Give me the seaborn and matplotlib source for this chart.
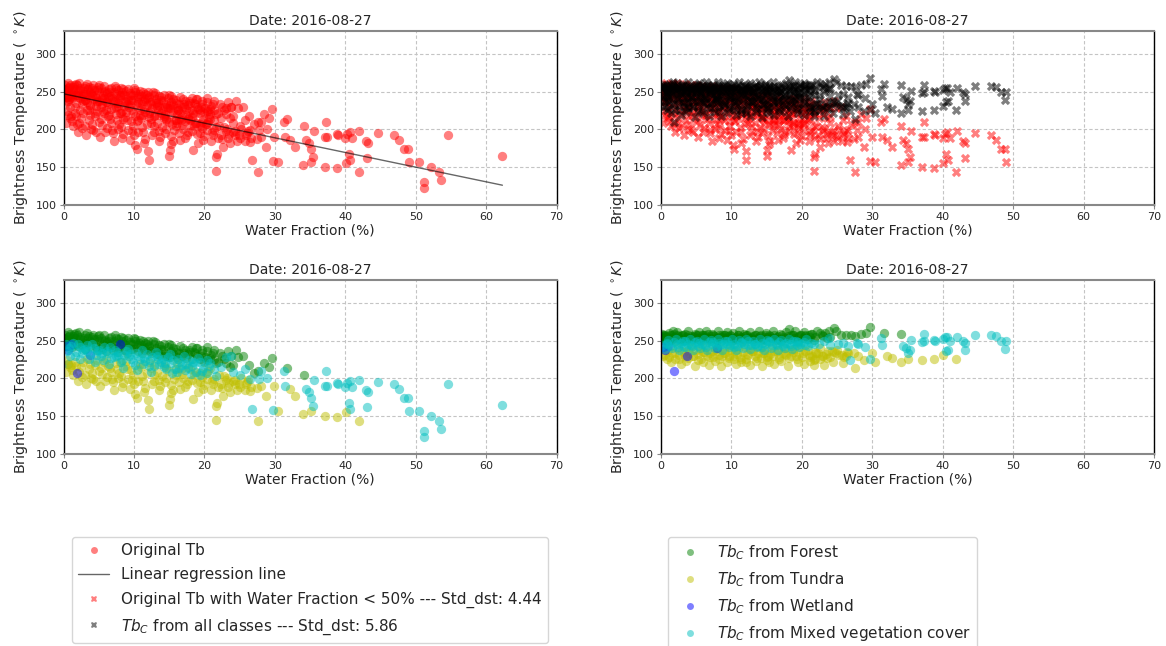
import matplotlib.pyplot as plt
import numpy as np
import pandas as pd
import seaborn as sns
from matplotlib.lines import Line2D

# --- data (water fraction %, original Tb, corrected Tb) ---
forest_wf = [0.1, 0.2, 0.3, 0.4, 0.6, 0.6, 0.7, 0.9, 1.0, 1.1, 1.3, 1.5, 1.6, 1.8, 1.9, 2.1, 2.2, 2.4,
             2.6, 2.7, 2.9, 3.0, 3.2, 3.4, 3.5, 3.7, 3.8, 4.1, 4.2, 4.4, 4.6, 4.7, 4.9, 5.0, 5.3, 5.5,
             5.6, 5.8, 5.9, 6.2, 6.3, 6.5, 6.7, 6.8, 7.0, 7.1, 7.4, 7.5, 7.7, 7.9, 8.0, 8.2, 8.3, 8.6,
             8.7, 8.9, 9.1, 9.2, 9.5, 9.6, 9.8, 10.0, 10.1, 10.4, 10.5, 10.7, 10.9, 11.0, 11.3, 11.4,
             11.6, 11.9, 12.0, 12.2, 12.4, 12.5, 12.8, 13.0, 13.1, 13.4, 13.6, 13.8, 14.1, 14.2, 14.5,
             14.7, 14.8, 15.2, 15.3, 15.6, 16.0, 16.1, 16.4, 16.6, 16.8, 17.2, 17.4, 17.6, 18.0, 18.2,
             18.5, 18.8, 18.9, 19.3, 19.6, 19.7, 20.1, 20.4, 20.5, 21.0, 21.2, 21.4, 21.9, 22.5, 23.0,
             23.6, 23.8, 24.5, 25.5, 26.3, 27.0, 27.6, 28.4, 29.1, 29.6, 31.7, 34.1,
             0.2, 0.5, 0.8, 1.2, 1.4, 1.7, 2.0, 2.3, 2.8, 3.1, 3.6, 3.9, 4.3, 4.8, 5.1, 5.4, 5.7, 6.0,
             6.4, 6.9, 7.3, 7.8, 8.1, 8.5, 9.0, 9.4, 9.9, 10.2, 10.6, 11.1, 11.5, 11.8, 12.3, 12.7,
             13.2, 13.5, 13.9, 14.4, 14.9, 15.1, 15.5, 15.9, 16.3, 16.9, 17.1, 17.8, 18.3, 18.7, 19.0,
             19.5, 19.9, 20.3, 20.8, 21.3, 21.7, 22.2, 22.8, 23.3, 24.0, 24.8]
forest_tb = [253, 258, 247, 252, 255, 219, 261, 259, 244, 250, 256, 259, 253, 246, 258, 249, 261, 255,
             244, 251, 254, 257, 247, 260, 253, 243, 250, 255, 258, 246, 241, 252, 256, 249, 254, 239,
             245, 257, 251, 248, 243, 253, 255, 244, 238, 250, 247, 254, 252, 240, 243, 255, 249, 246,
             237, 251, 253, 242, 248, 239, 245, 254, 250, 241, 236, 247, 251, 244, 249, 237,
             240, 246, 250, 243, 233, 238, 245, 248, 240, 236, 231, 243, 238, 246, 234,
             230, 241, 236, 244, 232, 239, 228, 234, 243, 230, 237, 227, 232, 235, 242,
             235, 240, 230, 226, 238, 233, 228, 236, 224, 231, 234, 226, 222, 229, 220,
             215, 230, 237, 229, 218, 207, 210, 220, 215, 227, 214, 204,
             250, 243, 256, 241, 252, 260, 243, 252, 247, 239, 256, 248, 252, 238, 258, 242, 250, 236,
             249, 241, 257, 235, 245, 253, 234, 245, 239, 252, 244, 233, 247, 241, 236, 249,
             232, 244, 239, 229, 245, 228, 240, 235, 226, 240, 233, 238, 225, 234, 240,
             229, 222, 241, 227, 237, 220, 233, 225, 236, 218, 228]
forest_tbc = [255, 256, 257, 254, 258, 249, 256, 255, 253, 252, 257, 258, 254, 255, 259, 253, 257, 256,
              254, 252, 256, 258, 251, 259, 255, 253, 257, 254, 256, 252, 255, 256, 258, 253, 258, 254,
              251, 257, 255, 257, 255, 253, 259, 252, 253, 256, 258, 256, 254, 254, 251, 258, 255, 257,
              255, 253, 257, 252, 256, 253, 258, 256, 254, 251, 254, 255, 258, 257, 253, 255,
              252, 256, 257, 258, 253, 254, 255, 256, 252, 257, 254, 254, 256, 258, 252,
              255, 258, 255, 257, 253, 257, 253, 255, 256, 252, 258, 255, 254, 256, 265,
              257, 257, 253, 255, 256, 258, 254, 258, 256, 258, 255, 259, 255, 260, 256,
              253, 262, 267, 258, 257, 257, 256, 259, 260, 268, 260, 259,
              259, 252, 250, 260, 251, 262, 250, 261, 249, 258, 251, 262, 249, 259, 252, 261, 249, 257,
              262, 250, 259, 251, 262, 250, 258, 261, 249, 260, 252, 262, 250, 259, 252, 261,
              250, 258, 262, 251, 260, 249, 256, 262, 251, 259, 250, 261, 252, 258, 262,
              250, 258, 261, 252, 259, 251, 262, 257, 260, 255, 262]

tundra_wf = [0.5, 0.9, 1.2, 1.6, 2.0, 2.5, 3.0, 3.4, 3.9, 4.0, 4.5, 5.0, 5.2, 5.7, 6.1, 6.6, 7.0, 7.4,
             7.9, 8.3, 8.7, 9.1, 9.6, 10.0, 10.2, 10.4, 10.8, 11.2, 11.6, 12.0, 12.1, 12.4, 12.9, 13.3,
             13.7, 14.2, 14.6, 15.0, 15.1, 15.5, 15.9, 16.4, 16.8, 17.3, 17.7, 18.2, 18.4, 18.7, 19.1,
             19.6, 20.0, 20.5, 21.0, 21.4, 21.7, 21.7, 21.8, 22.0, 22.3, 22.8, 23.0, 23.4, 24.0, 24.3,
             24.6, 25.2, 25.7, 26.0, 26.6, 27.4, 27.6, 28.0, 28.8, 29.9, 30.4, 32.1, 32.8, 34.0, 35.1,
             37.1, 38.8, 40.1, 41.9,
             1.0, 1.4, 2.2, 2.8, 3.2, 3.6, 4.2, 4.8, 5.5, 5.9, 6.3, 6.8, 7.2, 7.7, 8.0, 8.5, 9.0, 9.4,
             9.8, 10.6, 11.0, 11.4, 11.9, 12.6, 13.0, 13.5, 14.0, 14.4, 14.9, 15.3, 15.7, 16.1, 16.6,
             17.0, 17.5, 18.0, 18.9, 19.4, 19.8, 20.3, 20.8, 21.2, 22.5, 23.2, 23.7, 24.4, 25.0, 25.9,
             26.4, 22.6,
             0.3, 1.8, 2.6, 3.8, 4.6, 5.3, 6.0, 6.9, 7.6, 8.2, 8.9, 9.7, 10.5, 11.3, 12.2, 12.8, 13.6,
             14.5, 15.2, 16.0, 16.7, 17.6, 18.5, 19.3, 20.2, 21.1, 21.9, 23.5, 24.9, 26.2]
tundra_tb = [224, 215, 211, 222, 196, 215, 205, 226, 200, 207, 218, 210, 190, 221, 202, 214, 195, 220,
             207, 188, 216, 199, 211, 192, 179, 174, 219, 203, 187, 171, 160, 214, 197, 208,
             190, 218, 201, 165, 173, 185, 212, 195, 206, 188, 215, 198, 173, 209, 182,
             202, 191, 210, 185, 199, 145, 164, 168, 205, 193, 203, 198, 188, 196, 192,
             185, 200, 184, 195, 189, 187, 143, 190, 177, 190, 157, 186, 177, 153, 157,
             150, 149, 155, 143,
             218, 204, 209, 221, 193, 213, 199, 224, 206, 196, 217, 209, 185, 201, 222, 194, 212, 186,
             205, 196, 215, 182, 207, 193, 219, 184, 203, 195, 210, 180, 199, 220, 186,
             201, 193, 212, 194, 207, 186, 199, 214, 192, 187, 200, 182, 198, 189, 193,
             183, 177,
             208, 217, 202, 219, 196, 214, 225, 199, 212, 203, 223, 198, 213, 196, 221, 205, 198,
             214, 191, 205, 213, 197, 204, 195, 207, 197, 188, 194, 192, 198]
tundra_tbc = [231, 225, 228, 233, 226, 231, 236, 230, 227, 234, 229, 237, 232, 226, 235, 230, 233, 228,
              236, 231, 229, 234, 227, 237, 230, 225, 232, 228, 235, 226, 222, 231, 236, 229,
              233, 227, 234, 224, 228, 232, 230, 236, 228, 233, 231, 227, 229, 235, 230,
              233, 228, 236, 231, 229, 218, 224, 226, 233, 234, 230, 229, 232, 228, 236,
              235, 231, 231, 228, 234, 233, 214, 230, 224, 234, 222, 230, 227, 222, 225,
              224, 225, 231, 225,
              238, 221, 240, 219, 235, 223, 241, 216, 238, 222, 241, 218, 236, 223, 240, 217, 237, 221,
              242, 219, 239, 222, 241, 218, 236, 223, 240, 216, 238, 221, 241, 219, 237,
              223, 240, 217, 239, 222, 241, 219, 237, 223, 240, 218, 236, 222, 238, 220,
              235, 226,
              229, 234, 225, 238, 230, 224, 235, 228, 239, 226, 233, 229, 236, 225, 232, 238, 227,
              234, 229, 236, 226, 232, 238, 226, 233, 228, 235, 227, 233, 229]

wetland_wf = [0.3, 0.6, 1.0, 1.9, 3.7, 8.0]
wetland_tb = [243, 238, 246, 207, 231, 246]
wetland_tbc = [241, 238, 243, 210, 230, 240]

mixed_wf = [0.3, 0.8, 1.3, 1.8, 2.3, 2.8, 3.3, 3.8, 4.3, 4.8, 5.3, 5.8, 6.3, 6.8, 7.3, 7.8, 8.3, 8.8,
            9.3, 9.8, 10.3, 10.8, 11.3, 11.8, 12.3, 12.8, 13.3, 13.8, 14.3, 14.8, 15.3, 15.8, 16.3,
            16.8, 17.3, 17.8, 18.3, 18.8, 19.3, 19.8, 20.3, 20.8, 21.3, 21.7, 22.4, 23.1, 23.8, 24.0,
            25.1, 25.8, 26.5, 26.8, 27.8, 28.0, 28.9, 29.7, 31.3, 31.4, 34.4, 34.8, 35.1, 35.4, 35.5,
            37.1, 37.3, 37.4, 38.8, 38.9, 40.0, 40.3, 40.5, 40.6, 40.7, 41.0, 42.0, 42.9, 43.1, 43.2,
            44.6, 46.9, 47.6, 48.3, 48.9, 49.0, 50.4, 51.2, 51.2, 52.2, 53.3, 53.6, 54.6, 62.3,
            0.5, 1.0, 1.6, 2.1, 2.6, 3.1, 3.6, 4.1, 4.6, 5.1, 5.6, 6.1, 6.6, 7.1, 7.6, 8.1, 8.6, 9.1,
            9.6, 10.1, 10.6, 11.1, 11.6, 12.1, 12.6, 13.1, 13.6, 14.1, 14.6, 15.1, 15.6, 16.1, 16.6,
            17.1, 17.6, 18.1, 18.6, 19.1, 19.6, 20.6,
            0.9, 2.4, 3.4, 4.4, 5.4, 6.4, 7.4, 8.4, 9.4, 10.4, 11.4, 12.4, 13.4, 14.4, 15.4, 16.4,
            17.4, 18.4, 19.4, 20.4]
mixed_tb = [245, 240, 247, 235, 242, 238, 244, 232, 240, 236, 229, 241, 233, 227, 238, 231, 224, 236,
            229, 222, 234, 226, 219, 232, 224, 217, 230, 222, 215, 228, 220, 213, 226,
            218, 211, 224, 216, 209, 222, 214, 207, 220, 212, 203, 215, 228, 230, 208,
            204, 212, 199, 160, 199, 210, 201, 158, 210, 190, 186, 182, 174, 164, 198,
            190, 210, 190, 194, 192, 188, 194, 167, 197, 160, 188, 198, 185, 162, 182,
            195, 193, 186, 174, 174, 157, 157, 131, 122, 150, 143, 133, 193, 165,
            236, 243, 229, 246, 233, 239, 226, 245, 231, 238, 224, 236, 242, 228, 235, 221, 231, 239,
            225, 218, 230, 237, 223, 216, 228, 235, 219, 226, 212, 232, 224, 209, 221,
            229, 214, 206, 220, 227, 210, 216,
            230, 226, 236, 221, 233, 219, 229, 214, 232, 211, 227, 209, 225, 220, 207, 214,
            219, 222, 204, 224]
mixed_tbc = [244, 246, 243, 248, 245, 247, 242, 246, 244, 248, 243, 246, 244, 248, 245, 243, 247, 245,
             249, 244, 246, 243, 247, 245, 249, 244, 246, 243, 247, 245, 249, 244, 246,
             248, 243, 247, 245, 249, 244, 246, 248, 243, 247, 245, 246, 250, 253, 244,
             245, 247, 243, 224, 247, 246, 242, 225, 253, 244, 243, 240, 233, 238, 251,
             248, 259, 249, 251, 250, 252, 255, 236, 255, 238, 250, 255, 249, 238, 247,
             257, 257, 256, 250, 239, 249, np.nan, np.nan, np.nan, np.nan, np.nan, np.nan, np.nan, np.nan,
             239, 251, 240, 252, 238, 250, 241, 252, 238, 250, 240, 252, 238, 251, 240, 252, 238, 250,
             241, 252, 238, 251, 240, 252, 239, 250, 241, 252, 238, 251, 240, 252, 238,
             251, 240, 252, 239, 250, 241, 252,
             247, 242, 249, 243, 247, 242, 248, 244, 246, 242, 248, 244, 246, 242, 248, 244,
             246, 243, 248, 244]

# regression line of Tb on water fraction (slope, intercept)
reg_coef = [-1.94, 247.0]

classes = ['Forest', 'Tundra', 'Wetland', 'Mixed vegetation cover']
class_colors = ['g', 'y', 'b', 'c']
std_orig = 4.44
std_corr = 5.86
date_str = '2016-08-27'

# --- tables ---
frames = []
for name, wf, tb, tbc in zip(classes,
                             [forest_wf, tundra_wf, wetland_wf, mixed_wf],
                             [forest_tb, tundra_tb, wetland_tb, mixed_tb],
                             [forest_tbc, tundra_tbc, wetland_tbc, mixed_tbc]):
    frames.append(pd.DataFrame({'wf': wf, 'tb': tb, 'tbc': tbc, 'cls': name}))
df = pd.concat(frames, ignore_index=True)
df_low = df[df['wf'] < 50]
df_corr = df.dropna(subset=['tbc'])

reg = pd.DataFrame({'wf': np.linspace(0, df['wf'].max(), 50)})
reg['tb'] = np.polyval(reg_coef, reg['wf'])

# --- figure ---
sns.set_style('white')
plt.rcParams['font.family'] = ['DejaVu Sans']
fig = plt.figure(figsize=(11.66, 6.46), dpi=100)
w = 0.4229
h = 0.2693
axes = [fig.add_axes([0.0545, 0.6827, w, h]), fig.add_axes([0.5669, 0.6827, w, h]),
        fig.add_axes([0.0545, 0.2972, w, h]), fig.add_axes([0.5669, 0.2972, w, h])]

pt = dict(s=45, alpha=0.5, linewidth=0)

ax = axes[0]
sns.scatterplot(data=df, x='wf', y='tb', color='r', marker='o', ax=ax, **pt)
sns.lineplot(data=reg, x='wf', y='tb', color='k', lw=1, alpha=0.6, ax=ax)

ax = axes[1]
sns.scatterplot(data=df_low, x='wf', y='tb', color='r', marker='X', ax=ax, **pt)
sns.scatterplot(data=df_corr, x='wf', y='tbc', color='k', marker='X', ax=ax, **pt)

ax = axes[2]
for name, col in zip(classes, class_colors):
    sub = df[df['cls'] == name]
    sns.scatterplot(data=sub, x='wf', y='tb', color=col, marker='o', ax=ax, **pt)

ax = axes[3]
for name, col in zip(classes, class_colors):
    sub = df_corr[df_corr['cls'] == name]
    sns.scatterplot(data=sub, x='wf', y='tbc', color=col, marker='o', ax=ax, **pt)

for ax in axes:
    ax.set_xlim(0, 70)
    ax.set_ylim(100, 330)
    ax.set_xticks(range(0, 71, 10))
    ax.set_yticks(range(100, 301, 50))
    ax.grid(True, linestyle=(0, (3, 2)), color='#c4c4c4', lw=0.8)
    ax.set_axisbelow(True)
    ax.tick_params(axis='both', labelsize=8, length=3, color='#888888', direction='out',
                   left=True, bottom=True, pad=2)
    for side in ['left', 'right']:
        ax.spines[side].set_color('black')
        ax.spines[side].set_linewidth(1.0)
    for side in ['top', 'bottom']:
        ax.spines[side].set_color('#888888')
        ax.spines[side].set_linewidth(1.5)
    ax.set_title('Date: ' + date_str, fontsize=10, pad=4)
    ax.set_xlabel('Water Fraction (%)', fontsize=10, labelpad=1)
    ax.set_ylabel(r'Brightness Temperature ( $^\circ K$)', fontsize=10.3, labelpad=4)

# --- legends ---
left_handles = [
    Line2D([], [], ls='', marker='o', color='r', alpha=0.5, markersize=5, markeredgewidth=0),
    Line2D([], [], color='k', lw=1, alpha=0.6),
    Line2D([], [], ls='', marker='X', color='r', alpha=0.5, markersize=5, markeredgewidth=0),
    Line2D([], [], ls='', marker='X', color='k', alpha=0.5, markersize=5, markeredgewidth=0),
]
left_labels = ['Original Tb', 'Linear regression line',
               f'Original Tb with Water Fraction < 50% --- Std_dst: {std_orig:.2f}',
               f'$Tb_C$ from all classes --- Std_dst: {std_corr:.2f}']
fig.legend(left_handles, left_labels, loc='upper left', bbox_to_anchor=(0.062, 0.169),
           fontsize=11, frameon=True, borderaxespad=0, labelspacing=0.62, handlelength=2.0)

right_handles = [Line2D([], [], ls='', marker='o', color=c, alpha=0.5, markersize=5,
                        markeredgewidth=0) for c in class_colors]
right_labels = [f'$Tb_C$ from {n}' for n in classes]
fig.legend(right_handles, right_labels, loc='upper left', bbox_to_anchor=(0.573, 0.169),
           fontsize=11, frameon=True, borderaxespad=0, labelspacing=0.55, handlelength=2.0)

fig.savefig('out.png', dpi=100)
